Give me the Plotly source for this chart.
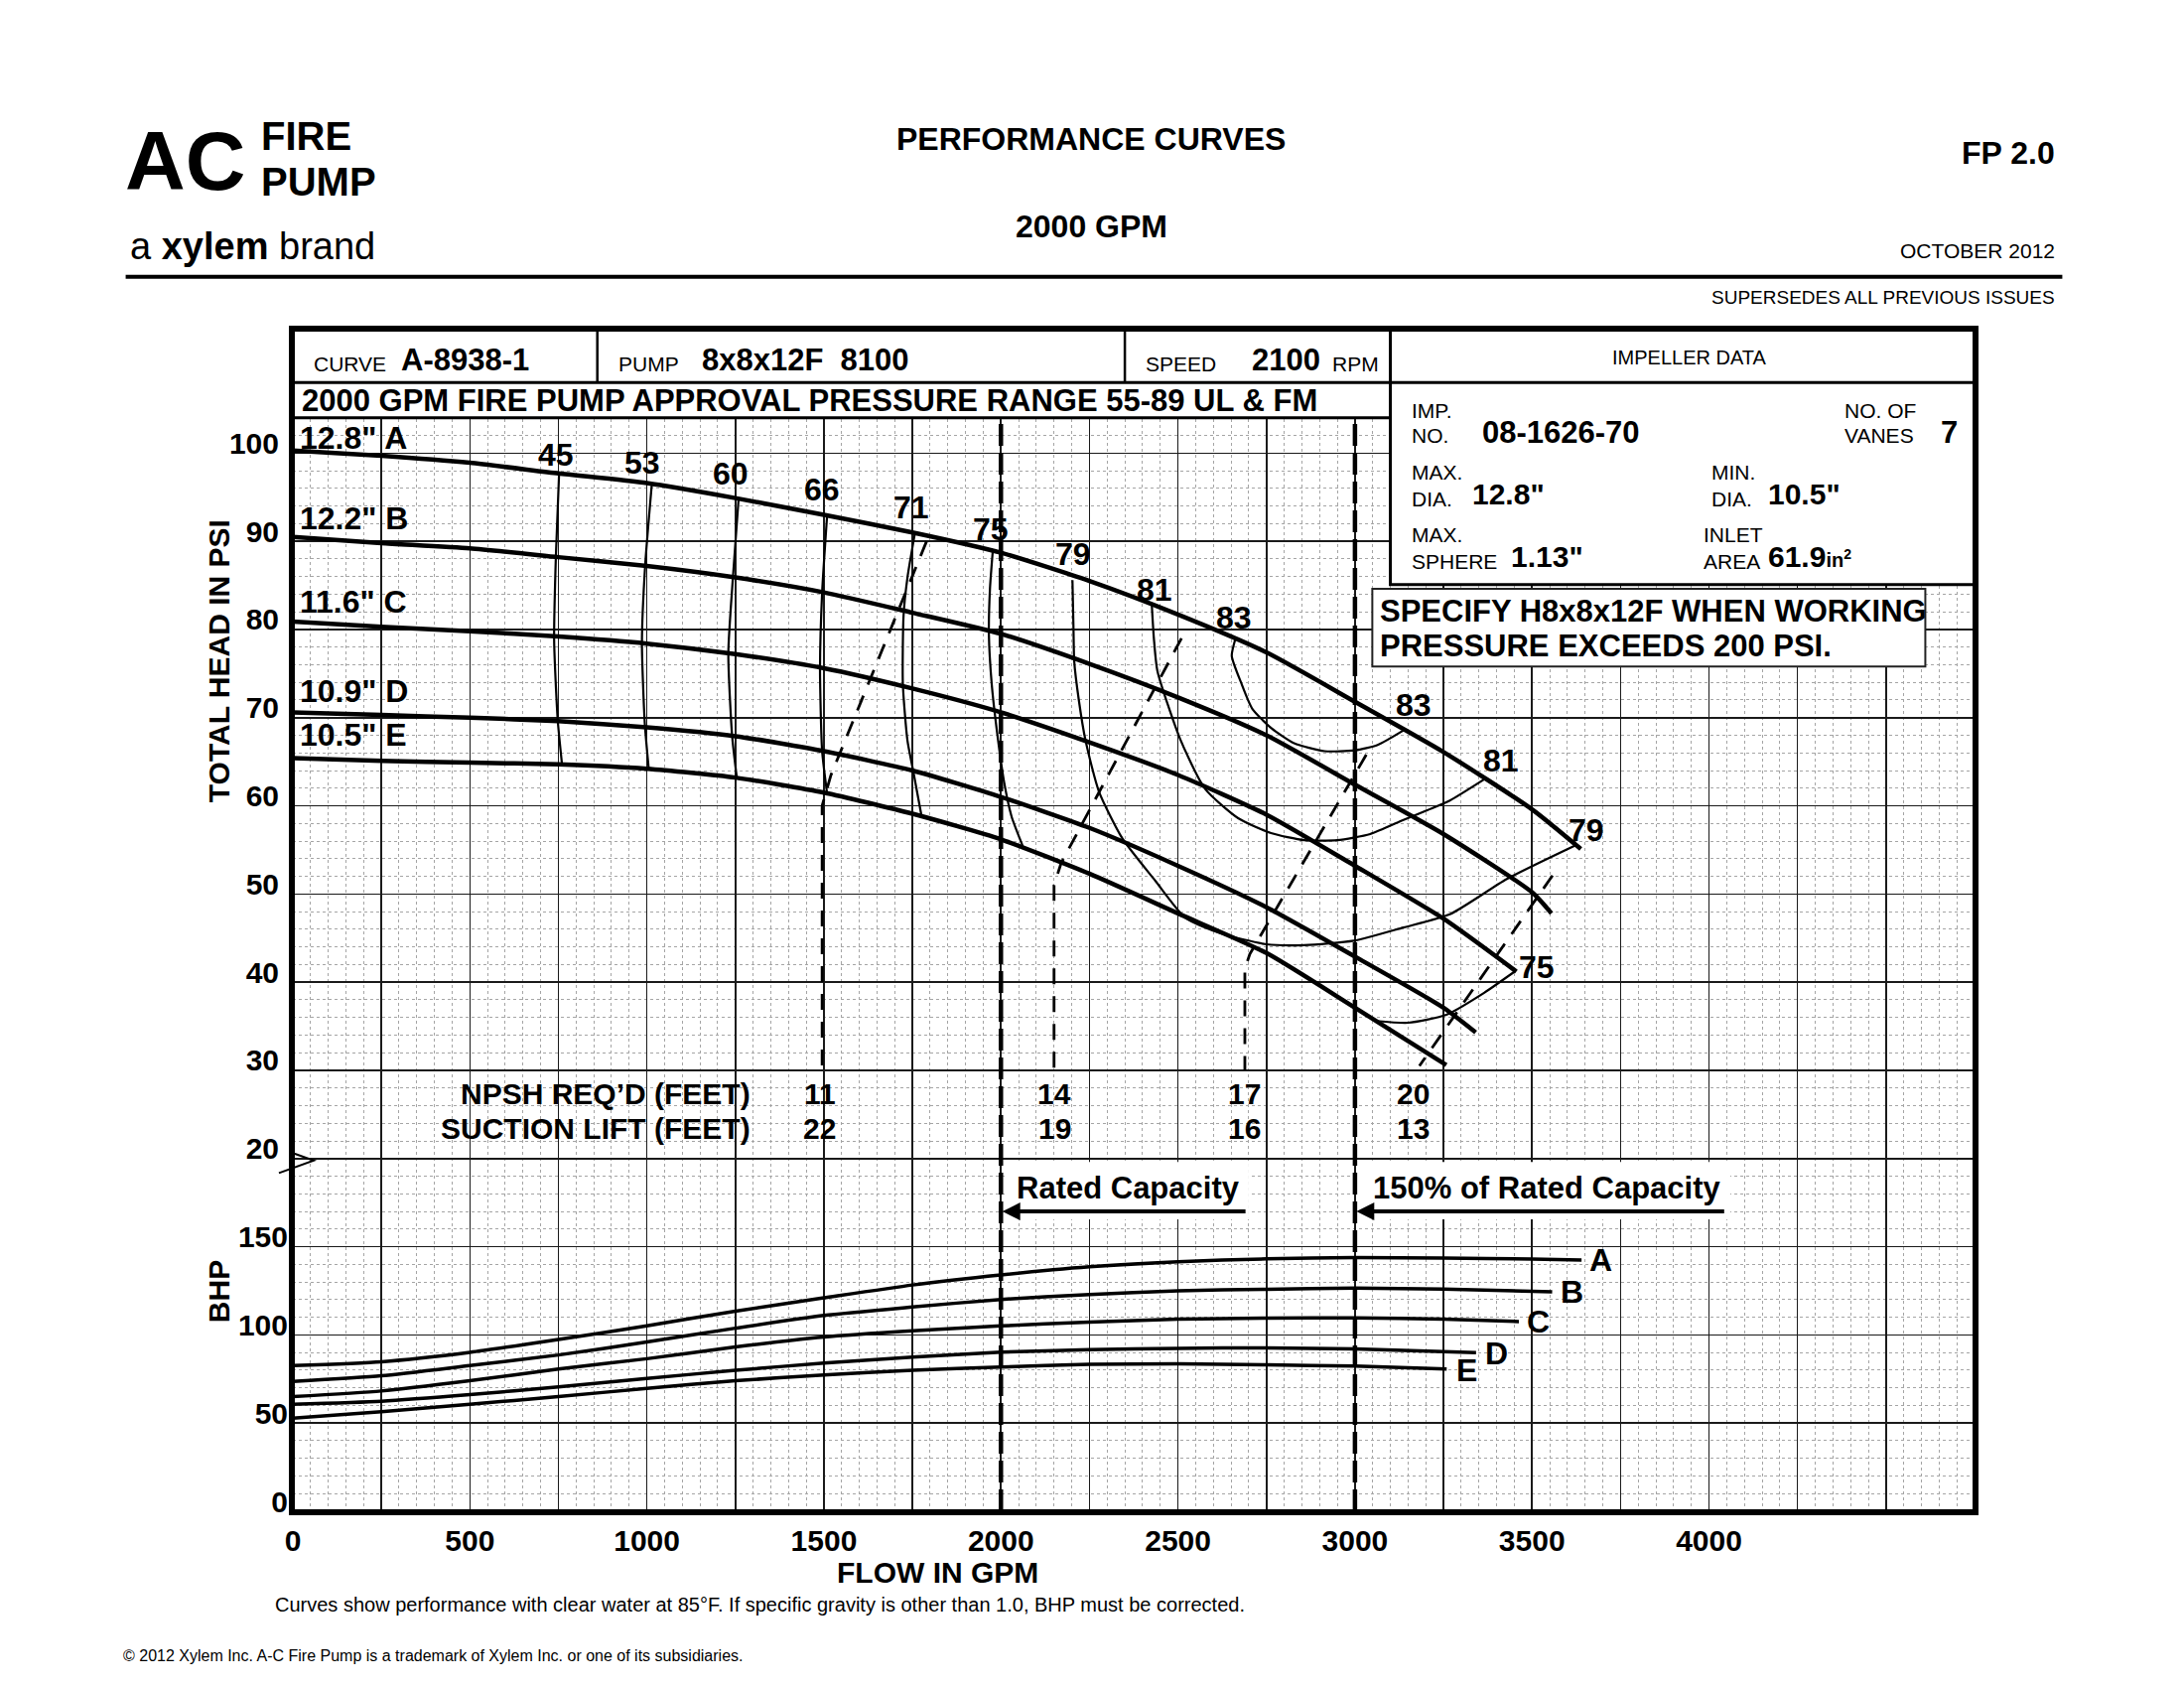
import plotly.graph_objects as go

# ------------------------------------------------------------------
# DATA
# ------------------------------------------------------------------
# Head-capacity curves (GPM, PSI)
flow_A = [0, 250, 500, 750, 1000, 1250, 1500, 1750, 2000, 2250, 2500, 2750, 3000, 3250, 3500, 3638]
head_A = [100.3, 99.7, 98.9, 97.7, 96.6, 94.9, 93.0, 91.0, 88.7, 85.5, 81.7, 77.4, 71.8, 66.1, 59.6, 55.1]
flow_B = [0, 250, 500, 750, 1000, 1250, 1500, 1750, 2000, 2250, 2500, 2750, 3000, 3250, 3500, 3555]
head_B = [90.5, 89.8, 89.2, 88.2, 87.2, 85.9, 84.2, 81.9, 79.5, 76.1, 72.3, 68.0, 62.4, 56.8, 50.2, 47.8]
flow_C = [0, 250, 500, 750, 1000, 1250, 1500, 1750, 2000, 2250, 2500, 2750, 3000, 3250, 3456]
head_C = [80.9, 80.3, 79.8, 79.2, 78.4, 77.2, 75.6, 73.3, 70.6, 67.2, 63.5, 59.0, 53.2, 47.2, 41.2]
flow_D = [0, 250, 500, 750, 1000, 1250, 1500, 1750, 2000, 2250, 2500, 2750, 3000, 3250, 3341]
head_D = [70.6, 70.3, 70.0, 69.6, 68.9, 67.9, 66.2, 64.0, 61.0, 57.5, 53.2, 48.5, 42.9, 37.1, 34.3]
flow_E = [0, 250, 500, 750, 1000, 1250, 1500, 1750, 2000, 2250, 2500, 2750, 3000, 3258]
head_E = [65.4, 65.1, 64.9, 64.7, 64.2, 63.2, 61.5, 59.1, 56.2, 52.3, 47.8, 43.3, 37.1, 30.6]

dia_names = ['12.8" A', '12.2" B', '11.6" C', '10.9" D', '10.5" E']
dia_label_h = [101.7, 92.6, 83.2, 73.0, 68.1]

# Brake horsepower curves (GPM, BHP)
bflow_A = [0, 250, 500, 750, 1000, 1250, 1500, 1750, 2000, 2250, 2500, 2750, 3000, 3250, 3500, 3640]
bhp_A = [82.6, 84.8, 90.1, 97.4, 105.2, 113.5, 121.0, 128.3, 134.0, 138.6, 141.5, 143.1, 143.8, 143.6, 143.0, 142.5]
bflow_B = [0, 250, 500, 750, 1000, 1250, 1500, 1750, 2000, 2250, 2500, 2750, 3000, 3250, 3557]
bhp_B = [73.6, 76.8, 82.6, 88.6, 96.0, 103.8, 111.0, 115.8, 120.1, 122.9, 125.0, 125.9, 126.5, 126.0, 124.4]
bflow_C = [0, 250, 500, 750, 1000, 1250, 1500, 1750, 2000, 2250, 2500, 2750, 3000, 3250, 3463]
bhp_C = [65.0, 68.2, 74.0, 80.6, 86.5, 93.2, 98.8, 102.3, 105.1, 107.3, 108.9, 109.5, 109.7, 109.0, 107.6]
bflow_D = [0, 250, 500, 750, 1000, 1250, 1500, 1750, 2000, 2250, 2500, 2750, 3000, 3342]
bhp_D = [60.7, 62.4, 66.1, 70.5, 75.3, 79.9, 84.0, 87.4, 90.2, 91.6, 92.4, 92.6, 92.0, 89.9]
bflow_E = [0, 250, 500, 750, 1000, 1250, 1500, 1750, 2000, 2250, 2500, 2750, 3000, 3259]
bhp_E = [52.8, 56.4, 60.7, 65.0, 69.7, 74.0, 77.3, 79.9, 81.8, 83.3, 83.6, 83.0, 82.3, 80.6]

bhp_label_txt = ["A", "B", "C", "D", "E"]
bhp_label_q = [3694, 3612, 3518, 3399, 3317]
bhp_label_v = [142.6, 124.4, 107.6, 89.6, 80.2]

# Efficiency iso-curves (GPM, PSI)
eff45_q = [752, 743, 738, 748, 760]
eff45_h = [97.7, 88.4, 78.8, 69.8, 64.8]
eff53_q = [1014, 995, 986, 994, 1005]
eff53_h = [96.5, 87.2, 78.5, 69.4, 64.3]
eff60_q = [1259, 1243, 1230, 1241, 1254]
eff60_h = [94.8, 85.9, 77.3, 67.8, 63.2]
eff66_q = [1509, 1495, 1489, 1495, 1509]
eff66_h = [92.9, 84.2, 75.6, 66.2, 61.4]
eff71_q = [1757, 1736, 1725, 1723, 1736, 1752, 1776]
eff71_h = [90.9, 85.9, 81.6, 73.8, 67.4, 64.0, 58.8]
eff75a_q = [1977, 1969, 1966, 1974, 1988, 2009, 2030, 2063]
eff75a_h = [88.9, 84.6, 79.4, 73.8, 68.7, 62.7, 58.8, 55.3]
eff75b_q = [3060, 3150, 3258, 3365, 3451]
eff75b_h = [35.6, 35.4, 36.3, 38.8, 41.2]
eff79_q = [2202, 2205, 2207, 2220, 2239, 2277, 2343, 2436, 2521, 2623, 2750, 2857, 2997, 3137, 3268, 3429, 3622]
eff79_h = [85.6, 80.0, 76.4, 72.0, 67.4, 61.6, 56.3, 51.5, 47.3, 45.5, 44.3, 44.2, 44.7, 46.2, 47.7, 51.7, 55.5]
eff81_q = [2426, 2432, 2442, 2506, 2577, 2670, 2763, 2857, 2950, 3043, 3137, 3204, 3268, 3365]
eff81_h = [82.9, 79.0, 75.3, 67.6, 61.9, 58.6, 56.9, 56.1, 56.1, 56.8, 58.4, 59.5, 60.6, 63.0]
eff83_q = [2662, 2652, 2678, 2710, 2764, 2828, 2914, 3000, 3064, 3139]
eff83_h = [78.9, 77.0, 74.0, 71.0, 68.8, 67.1, 66.2, 66.3, 66.9, 68.6]

eff_top_txt = ["45", "53", "60", "66", "71", "75", "79", "81", "83"]
eff_top_q = [743, 986, 1237, 1495, 1747, 1972, 2203, 2433, 2659]
eff_top_h = [99.8, 98.9, 97.7, 95.9, 93.9, 91.4, 88.6, 84.5, 81.3]
eff_end_txt = ["83", "81", "79", "75"]
eff_end_q = [3165, 3412, 3653, 3513]
eff_end_h = [71.4, 65.1, 57.2, 41.7]

# NPSH dashed lines (GPM, PSI)
npsh11_q = [1790, 1520, 1495, 1495]
npsh11_h = [90.0, 63.5, 60.0, 30.0]
npsh14_q = [2510, 2170, 2150, 2150]
npsh14_h = [79.0, 53.5, 51.0, 30.0]
npsh17_q = [3032, 2703, 2689, 2689]
npsh17_h = [65.8, 43.2, 41.5, 30.0]
npsh20_q = [3558, 3182]
npsh20_h = [52.1, 30.5]

npsh_label_q = [1488, 2152, 2688, 3165]
npsh_req = ["11", "14", "17", "20"]
suction_lift = ["22", "19", "16", "13"]

rated_flow = 2000
flow_150 = 3000

x_tick_vals = [0, 500, 1000, 1500, 2000, 2500, 3000, 3500, 4000]
head_tick_vals = [20, 30, 40, 50, 60, 70, 80, 90, 100]
bhp_tick_vals = [0, 50, 100, 150]

# ------------------------------------------------------------------
# LAYOUT CONSTANTS
# ------------------------------------------------------------------
W, H = 2200, 1700
PL, PR, PT, PB = 295, 1989, 332, 1522   # plot box in pixels
X_MAX = 4750
H_LO, H_HI = -20, 114                   # head axis (bottom band = BHP)
B_LO, B_HI = (H_LO + 20) * 5, (H_HI + 20) * 5

ARIAL = "Liberation Sans, Arial, Helvetica, sans-serif"

# page-level placement measured on the reference page (plot box = 210..1417 x 237..1086)
RL, RR, RT, RB = 210.0, 1417.0, 237.0, 1086.0


def PX(xp):
    return (xp - RL) / (RR - RL)


def PY(yp):
    return (RB - yp) / (RB - RT)


def XP(q):
    return q / X_MAX


def YP(h):
    return (h - H_LO) / (H_HI - H_LO)


fig = go.Figure()


def line(q, v, width, yaxis="y", dash=None, spline=True):
    fig.add_trace(go.Scatter(
        x=q, y=v, mode="lines", yaxis=yaxis, hoverinfo="skip", showlegend=False,
        line=dict(color="black", width=width, dash=dash,
                  shape="spline" if spline else "linear", smoothing=0.6)))


# head curves
for q, h in [(flow_A, head_A), (flow_B, head_B), (flow_C, head_C), (flow_D, head_D), (flow_E, head_E)]:
    line(q, h, 4.5)
# efficiency curves
for q, h in [(eff45_q, eff45_h), (eff53_q, eff53_h), (eff60_q, eff60_h), (eff66_q, eff66_h),
             (eff71_q, eff71_h), (eff75a_q, eff75a_h), (eff75b_q, eff75b_h), (eff79_q, eff79_h),
             (eff81_q, eff81_h), (eff83_q, eff83_h)]:
    line(q, h, 2.2)
# NPSH dashed
for q, h in [(npsh11_q, npsh11_h), (npsh14_q, npsh14_h), (npsh17_q, npsh17_h), (npsh20_q, npsh20_h)]:
    line(q, h, 2.8, dash="16px,12px", spline=False)
# rated / 150% capacity lines
for q in [rated_flow, flow_150]:
    line([q, q], [H_LO, 104], 4.5, dash="22px,7px", spline=False)
# BHP curves
for q, b in [(bflow_A, bhp_A), (bflow_B, bhp_B), (bflow_C, bhp_C), (bflow_D, bhp_D), (bflow_E, bhp_E)]:
    line(q, b, 3.5, yaxis="y2")

ann = []


def T(s, x, y, size, family=ARIAL, bold=True, xa="center", ya="middle", xref="x", yref="y", angle=0):
    ann.append(dict(text=(f"<b>{s}</b>" if bold else s), x=x, y=y, xref=xref, yref=yref,
                    xanchor=xa, yanchor=ya, showarrow=False, textangle=angle,
                    font=dict(family=family, size=size, color="black")))


# --- page header ---
T("AC", PX(133), PY(116), 84, xref="paper", yref="paper")
T("FIRE", PX(186), PY(98), 40, xa="left", xref="paper", yref="paper")
T("PUMP", PX(186), PY(131), 40, xa="left", xref="paper", yref="paper")
T("a <b>xylem</b> brand", PX(92), PY(177), 38, bold=False, xa="left", xref="paper", yref="paper")
T("PERFORMANCE CURVES", PX(783), PY(100), 32, xref="paper", yref="paper")
T("2000 GPM", PX(783), PY(163), 32, xref="paper", yref="paper")
T("FP 2.0", PX(1476), PY(110), 32, xa="right", xref="paper", yref="paper")
T("OCTOBER 2012", PX(1476), PY(180), 21, bold=False, xa="right", xref="paper", yref="paper")
T("SUPERSEDES ALL PREVIOUS ISSUES", PX(1476), PY(214), 19, bold=False, xa="right", xref="paper", yref="paper")
T("Curves show performance with clear water at 85°F. If specific gravity is other than 1.0, BHP must be corrected.",
  PX(196), PY(1153), 20, bold=False, xa="left", xref="paper", yref="paper")
T("© 2012 Xylem Inc. A-C Fire Pump is a trademark of Xylem Inc. or one of its subsidiaries.",
  PX(87), PY(1190), 16, bold=False, xa="left", xref="paper", yref="paper")

# --- header boxes ---
T("CURVE", 52, 110.1, 21, bold=False, xa="left")
T("A-8938-1", 300, 110.6, 31, xa="left")
T("PUMP", 915, 110.1, 21, bold=False, xa="left")
T("8x8x12F&nbsp;&nbsp;8100", 1151, 110.6, 31, xa="left")
T("SPEED", 2402, 110.1, 21, bold=False, xa="left")
T("2100", 2704, 110.6, 31, xa="left")
T("RPM", 2930, 110.1, 21, bold=False, xa="left")
T("IMPELLER DATA", 3946, 110.9, 20, bold=False)
T("2000 GPM FIRE PUMP APPROVAL PRESSURE RANGE 55-89 UL &amp; FM", 20, 106.0, 31, xa="left")

T("IMP.", 3154, 104.8, 21, bold=False, xa="left")
T("NO.", 3154, 102.0, 21, bold=False, xa="left")
T("08-1626-70", 3353, 102.4, 31, xa="left")
T("NO. OF", 4378, 104.8, 21, bold=False, xa="left")
T("VANES", 4378, 102.0, 21, bold=False, xa="left")
T("7", 4650, 102.4, 31, xa="left")
T("MAX.", 3154, 97.8, 21, bold=False, xa="left")
T("DIA.", 3154, 94.8, 21, bold=False, xa="left")
T('12.8"', 3326, 95.4, 30, xa="left")
T("MIN.", 4001, 97.8, 21, bold=False, xa="left")
T("DIA.", 4001, 94.8, 21, bold=False, xa="left")
T('10.5"', 4162, 95.4, 30, xa="left")
T("MAX.", 3154, 90.7, 21, bold=False, xa="left")
T("SPHERE", 3154, 87.7, 21, bold=False, xa="left")
T('1.13"', 3436, 88.3, 30, xa="left")
T("INLET", 3979, 90.7, 21, bold=False, xa="left")
T("AREA", 3979, 87.7, 21, bold=False, xa="left")
T('61.9<span style="font-size:20px">in<sup>2</sup></span>', 4162, 88.3, 30, xa="left")
T("SPECIFY H8x8x12F WHEN WORKING", 3064, 82.1, 31, xa="left")
T("PRESSURE EXCEEDS 200 PSI.", 3064, 78.1, 31, xa="left")

# --- curve labels ---
for s, h in zip(dia_names, dia_label_h):
    T(s, 15, h, 32, xa="left")
for s, q, h in zip(eff_top_txt + eff_end_txt, eff_top_q + eff_end_q, eff_top_h + eff_end_h):
    T(s, q, h, 32)
for s, q, b in zip(bhp_label_txt, bhp_label_q, bhp_label_v):
    T(s, q, b, 32, yref="y2")

# --- NPSH table ---
T("NPSH REQ\u2019D (FEET)", 1298, 27.3, 30, xa="right")
T("SUCTION LIFT (FEET)", 1298, 23.4, 30, xa="right")
for q, a, b in zip(npsh_label_q, npsh_req, suction_lift):
    T(a, q, 27.3, 30)
    T(b, q, 23.4, 30)

# --- capacity notes ---
T("Rated Capacity", 2039, 16.7, 31, xa="left")
T("150% of Rated Capacity", 3044, 16.7, 31, xa="left")
for head_q, tail_q in [(rated_flow + 4, 2695), (flow_150 + 4, 4047)]:
    ann.append(dict(x=head_q, y=14.0, ax=tail_q, ay=14.0, xref="x", yref="y", axref="x", ayref="y",
                    text="", showarrow=True, arrowhead=2, arrowsize=0.9, arrowwidth=4, arrowcolor="black"))

# --- axis titles ---
T("TOTAL HEAD IN PSI", PX(157), PY(475), 30, xref="paper", yref="paper", angle=-90)
T("BHP", PX(157), PY(928), 30, xref="paper", yref="paper", angle=-90)
T("FLOW IN GPM", PX(673), PY(1130), 30, xref="paper", yref="paper")

# ------------------------------------------------------------------
# SHAPES
# ------------------------------------------------------------------
shapes = []
# white panels behind capacity notes (above grid, below traces)
for x0, x1 in [(2012, 2700), (3007, 4060)]:
    shapes.append(dict(type="rect", xref="x", yref="y", x0=x0, x1=x1, y0=13.1, y1=19.6,
                       fillcolor="white", line=dict(width=0), layer="between"))
# header band
shapes.append(dict(type="rect", xref="paper", yref="paper", x0=0, x1=XP(3100), y0=YP(104), y1=1,
                   fillcolor="white", line=dict(color="black", width=3), layer="above"))
shapes.append(dict(type="rect", xref="paper", yref="paper", x0=XP(3100), x1=1, y0=YP(85.1), y1=1,
                   fillcolor="white", line=dict(color="black", width=3), layer="above"))
shapes.append(dict(type="line", xref="paper", yref="paper", x0=0, x1=1, y0=YP(108), y1=YP(108),
                   line=dict(color="black", width=3), layer="above"))
for q in [860, 2350]:
    shapes.append(dict(type="line", xref="paper", yref="paper", x0=XP(q), x1=XP(q), y0=YP(108), y1=1,
                       line=dict(color="black", width=2.5), layer="above"))
shapes.append(dict(type="rect", xref="paper", yref="paper", x0=XP(3049), x1=XP(4611), y0=YP(75.8), y1=YP(84.6),
                   fillcolor="white", line=dict(color="#222", width=2), layer="above"))
# outer border
shapes.append(dict(type="rect", xref="paper", yref="paper", x0=0, x1=1, y0=0, y1=1,
                   line=dict(color="black", width=4), layer="above"))
# page rule
shapes.append(dict(type="line", xref="paper", yref="paper", x0=PX(90), x1=PX(1480), y0=PY(199), y1=PY(199),
                   line=dict(color="black", width=4), layer="above"))
# axis break mark
shapes.append(dict(type="path", xref="paper", yref="paper",
                   path=f"M {PX(211)},{PY(829)} L {PX(225)},{PY(834)} L {PX(200)},{PY(843)}",
                   line=dict(color="black", width=2), layer="above"))

# ------------------------------------------------------------------
# AXES
# ------------------------------------------------------------------
grid_x = list(range(0, X_MAX + 1, 250))
grid_h = list(range(H_LO, 111, 10))
major_col, minor_col = "#1a1a1a", "#a5a5a5"

fig.update_layout(
    width=W, height=H, autosize=False,
    margin=dict(l=PL, r=W - PR, t=PT, b=H - PB, pad=0),
    paper_bgcolor="white", plot_bgcolor="white",
    showlegend=False, hovermode=False,
    font=dict(family=ARIAL, color="black"),
    xaxis=dict(
        range=[0, X_MAX], tickmode="array", tickvals=grid_x,
        ticktext=[f"<b>{v}</b>" if v in x_tick_vals else "" for v in grid_x],
        showgrid=True, gridcolor=major_col, gridwidth=1.6,
        minor=dict(tickmode="linear", tick0=0, dtick=50, showgrid=True,
                   gridcolor=minor_col, griddash="dot", gridwidth=1, ticks=""),
        showline=True, linecolor="black", linewidth=4, mirror=True,
        ticks="", ticklabelstandoff=0, zeroline=False, fixedrange=True,
        tickfont=dict(family=ARIAL, size=30, color="black")),
    yaxis=dict(
        range=[H_LO, H_HI], tickmode="array", tickvals=grid_h,
        ticktext=[f"<b>{v}</b>" if v in head_tick_vals else "" for v in grid_h],
        showgrid=True, gridcolor=major_col, gridwidth=1.6,
        minor=dict(tickmode="linear", tick0=0, dtick=2, showgrid=True,
                   gridcolor=minor_col, griddash="dot", gridwidth=1, ticks=""),
        showline=True, linecolor="black", linewidth=4, mirror=True,
        ticks="", ticklabelshift=-10, ticklabelstandoff=4, zeroline=False, fixedrange=True,
        tickfont=dict(family=ARIAL, size=30, color="black")),
    yaxis2=dict(
        range=[B_LO, B_HI], overlaying="y", side="left", tickmode="array",
        tickvals=bhp_tick_vals, ticktext=[f"<b>{v}</b>" for v in bhp_tick_vals],
        showgrid=False, zeroline=False, showline=False, ticks="",
        ticklabelshift=-10, ticklabelstandoff=4, fixedrange=True,
        tickfont=dict(family=ARIAL, size=30, color="black")),
    annotations=ann, shapes=shapes,
)

fig.write_html("out.html", config={"displayModeBar": False, "staticPlot": True},
               post_script="document.body.style.margin='0px';")
